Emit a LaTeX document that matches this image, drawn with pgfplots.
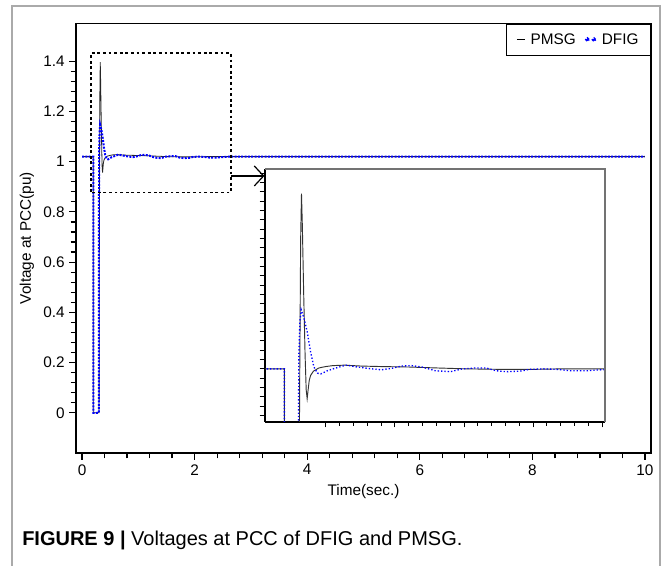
\documentclass[border=0pt]{standalone}
\usepackage{fontspec}
\setmainfont{Liberation Sans}
\usepackage{pgfplots}
\usepackage{pgfplotstable}
\pgfplotsset{compat=1.18}
\usetikzlibrary{arrows.meta}

\pgfplotstableread{
t v
0 1.02
0.2 1.02
0.2001 0
0.303 0
0.31 0.95
0.318 1.30
0.324 1.396
0.33 1.33
0.34 1.18
0.35 1.05
0.358 0.975
0.365 0.956
0.372 0.975
0.38 0.995
0.39 1.006
0.41 1.015
0.45 1.022
0.5 1.025
0.55 1.027
0.634 1.028
0.76 1.026
0.9 1.025
1.1 1.024
1.3 1.022
1.52 1.020
1.76 1.019
2.0 1.019
2.2 1.020
2.55 1.020
10 1.020
}\pmsg

\pgfplotstableread{
t v
0 1.02
0.2 1.02
0.2001 0
0.298 0
0.300 0.80
0.305 1.05
0.312 1.12
0.3215 1.147
0.341 1.13
0.365 1.10
0.39 1.056
0.414 1.024
0.439 1.011
0.463 1.009
0.511 1.016
0.585 1.023
0.646 1.028
0.707 1.025
0.804 1.021
0.902 1.018
0.975 1.021
1.048 1.026
1.12 1.027
1.195 1.024
1.293 1.016
1.402 1.014
1.488 1.020
1.585 1.022
1.659 1.022
1.732 1.016
1.805 1.014
1.903 1.015
1.976 1.019
2.073 1.020
2.171 1.019
2.269 1.016
2.39 1.016
2.488 1.018
2.6 1.020
10 1.020
}\dfig

\definecolor{framegray}{RGB}{170,170,170}

\begin{document}
\begin{tikzpicture}
% outer frame
\draw[framegray, line width=1.1pt] (9pt,-424.5pt) -- (9pt,-4.5pt) -- (495pt,-4.5pt) -- (495pt,-424.5pt);

\begin{axis}[
  at={(57pt,-339.75pt)}, anchor=south west,
  scale only axis, width=431.25pt, height=322.125pt,
  xmin=-0.107, xmax=10.107, ymin=-0.16, ymax=1.55,
  xtick={0,2,4,6,8,10}, minor x tick num=4,
  ytick={0,0.2,0.4,0.6,0.8,1,1.2,1.4}, minor y tick num=4,
  tick align=outside, xtick pos=bottom, ytick pos=left,
  major tick length=5pt, minor tick length=4pt,
  every tick/.style={black, line width=0.9pt},
  axis line style={black, line width=1.3pt},
  /pgf/number format/assume math mode=true,
  tick label style={font=\fontsize{11.5}{13}\selectfont},
  label style={font=\fontsize{11.5}{13}\selectfont},
  xlabel={Time(sec.)}, ylabel={Voltage at PCC(pu)},
  legend columns=2,
  legend style={at={(rel axis cs:1,1)}, anchor=north east, draw=black, line width=0.8pt,
    fill=white, font=\fontsize{11.5}{13}\selectfont, inner xsep=7pt, inner ysep=5pt,
    /tikz/every odd column/.append style={column sep=2pt},
    /tikz/every even column/.append style={column sep=5pt}},
  legend cell align=left,
]
\addplot[black!85, line width=0.6pt,
  legend image code/.code={\draw[black, line width=0.9pt] (0pt,0pt) -- (6pt,0pt);}]
  table[x=t,y=v] {\pmsg};
\addlegendentry{PMSG}
\addplot[blue, line width=1.5pt, densely dotted,
  legend image code/.code={\fill[blue] (1pt,0pt) circle (1pt); \fill[blue] (6pt,0pt) circle (1pt);}]
  table[x=t,y=v] {\dfig};
\addlegendentry{DFIG}
\draw[black, line width=1.3pt, dash pattern=on 2.2pt off 2pt] (axis cs:0.16,0.8775) rectangle (axis cs:2.646,1.432);
\draw[black, line width=0.9pt, -{Straight Barb[length=7pt,width=15pt]}] (axis cs:2.646,0.943) -- (axis cs:3.24,0.943);
\end{axis}

\begin{axis}[
  at={(198.75pt,-316.5pt)}, anchor=south west,
  scale only axis, width=255pt, height=189.75pt,
  xmin=0.06, xmax=2.52, ymin=0.906, ymax=1.449,
  xtick={0.5,1,1.5,2,2.5}, minor x tick num=4,
  ytick={0.92,0.94,...,1.44},
  xticklabels={}, yticklabels={},
  tick align=outside, xtick pos=bottom, ytick pos=left,
  major tick length=4pt, minor tick length=3pt,
  every tick/.style={black, line width=0.7pt},
  axis x line*=bottom, axis y line*=left,
  axis line style={black, line width=1.2pt, -},
  axis background/.style={fill=white},
  after end axis/.code={
    \draw[black!55, line width=0.8pt] (rel axis cs:0,1) -- (rel axis cs:1,1) -- (rel axis cs:1,0);
  },
]
\addplot[black!80, line width=0.7pt] table[x=t,y=v] {\pmsg};
\addplot[blue, line width=1pt, dash pattern=on 1pt off 1.5pt] table[x=t,y=v] {\dfig};
\end{axis}

\node[anchor=west, inner sep=0pt] at (16.5pt,-405pt)
  {\fontsize{15}{17}\selectfont\textbf{FIGURE 9 |} Voltages at PCC of DFIG and PMSG.};

\pgfresetboundingbox
\path[use as bounding box] (0pt,0pt) rectangle (498pt,-424.5pt);
\end{tikzpicture}
\end{document}
